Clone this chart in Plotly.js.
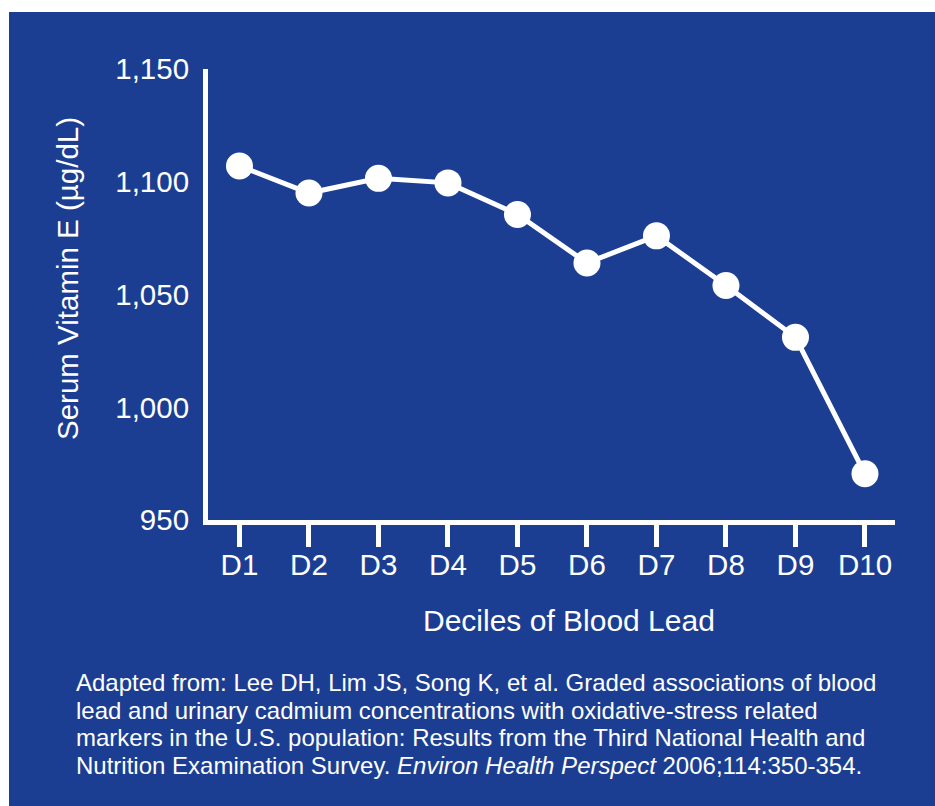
<!DOCTYPE html>
<html>
<head>
<meta charset="utf-8">
<script src="https://cdn.plot.ly/plotly-3.0.1.min.js"></script>
<style>html,body{margin:0;padding:0;background:#fff;}#chart{width:935px;height:806px;}</style>
</head>
<body>
<div id="chart"></div>
<script>
const deciles = ["D1","D2","D3","D4","D5","D6","D7","D8","D9","D10"];
const vitaminE = [1107, 1095, 1101.5, 1099.5, 1085.5, 1064, 1076, 1054, 1031, 970.5];
const yTickVals = [950, 1000, 1050, 1100, 1150];
const yTickText = ["950", "1,000", "1,050", "1,100", "1,150"];
const xTitle = "Deciles of Blood Lead";
const yTitle = "Serum Vitamin E (µg/dL)";
const footLines = [
  "Adapted from: Lee DH, Lim JS, Song K, et al. Graded associations of blood",
  "lead and urinary cadmium concentrations with oxidative-stress related",
  "markers in the U.S. population: Results from the Third National Health and",
  "Nutrition Examination Survey. <i>Environ Health Perspect</i> 2006;114:350-354."
];

const W = 935, H = 806;
const L = 208, R = 895, T = 69, B = 520;
const px = x => (x - L) / (R - L);
const py = y => (B - y) / (B - T);
const FONT = "Liberation Sans, Arial, Helvetica, sans-serif";
const BLUE = "#1c3e92";

const annotations = [
  {text: xTitle, xref: "paper", yref: "paper", x: px(569), y: py(620), xanchor: "center", yanchor: "middle",
   showarrow: false, font: {family: FONT, size: 30, color: "#fff"}},
  {text: yTitle, xref: "paper", yref: "paper", x: px(67), y: py(279), xanchor: "center", yanchor: "middle",
   textangle: -90, showarrow: false, font: {family: FONT, size: 29.5, color: "#fff"}}
];
const footY = [682, 710, 737.5, 765.5];
footLines.forEach((t, i) => annotations.push({
  text: t, xref: "paper", yref: "paper", x: px(74), y: py(footY[i]), xanchor: "left", yanchor: "middle",
  showarrow: false, align: "left", font: {family: FONT, size: 24, color: "#fff"}
}));

const trace = {
  x: deciles, y: vitaminE, type: "scatter", mode: "lines+markers",
  line: {color: "#fff", width: 5},
  marker: {color: "#fff", size: 27},
  hoverinfo: "none"
};

const layout = {
  width: W, height: H,
  margin: {l: L, r: W - R, t: T, b: H - B, pad: 0},
  paper_bgcolor: "#fff",
  plot_bgcolor: "rgba(0,0,0,0)",
  showlegend: false,
  font: {family: FONT, color: "#fff"},
  xaxis: {
    type: "category", range: [-0.453, 9.432],
    showline: true, linecolor: "#fff", linewidth: 5,
    ticks: "outside", ticklen: 22, tickwidth: 5, tickcolor: "#fff",
    showgrid: false, zeroline: false,
    ticklabelstandoff: -7,
    tickfont: {family: FONT, size: 29.5, color: "#fff"}
  },
  yaxis: {
    range: [950, 1150], tickvals: yTickVals, ticktext: yTickText,
    showline: true, linecolor: "#fff", linewidth: 5,
    ticks: "", showgrid: false, zeroline: false,
    ticklabelstandoff: 8,
    tickfont: {family: FONT, size: 29.5, color: "#fff"}
  },
  shapes: [{
    type: "rect", xref: "paper", yref: "paper", layer: "below",
    x0: px(9), x1: px(940), y0: py(810), y1: py(12),
    fillcolor: BLUE, line: {width: 0}
  }],
  annotations: annotations
};

Plotly.newPlot("chart", [trace], layout, {staticPlot: true, displayModeBar: false});
</script>
</body>
</html>
